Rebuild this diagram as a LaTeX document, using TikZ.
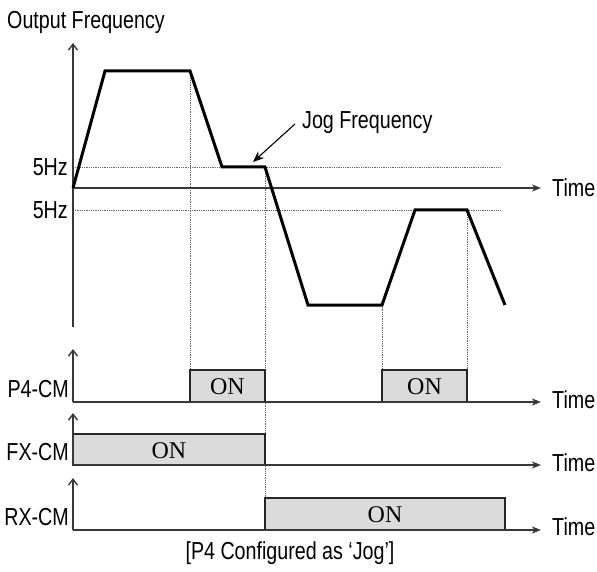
\documentclass[tikz,border=0pt]{standalone}
\usepackage{fontspec}
\setmainfont[FakeStretch=0.8]{Liberation Sans}
\newfontfamily\onfont{Liberation Serif}
\usetikzlibrary{arrows.meta}
\begin{document}
\begin{tikzpicture}[x=1pt,y=-1pt,
  lbl/.style={inner sep=0pt,font=\fontsize{24.6}{29}\selectfont},
  ontext/.style={inner sep=0pt,font=\onfont\fontsize{24}{28}\selectfont},
  axis/.style={draw=black!78,line width=1.4pt},
  timeaxis/.style={axis,-{Stealth[length=9pt,width=7pt,inset=2.5pt]}},
  yaxis/.style={axis,-{Straight Barb[length=6pt,width=9pt]}},
  guide/.style={draw=black!60,line width=0.8pt,densely dotted},
  onbox/.style={draw=black!85,fill=black!14,line width=1.3pt},
  freq/.style={draw=black,line width=3pt,line join=miter},
]
\useasboundingbox (0,0) rectangle (597,572);

% --- guides (dotted)
\draw[guide] (73,167) -- (500,167);
\draw[guide] (73,210) -- (500,210);
\draw[guide] (190,71) -- (190,370);
\draw[guide] (265,167) -- (265,498);
\draw[guide] (382,305) -- (382,370);
\draw[guide] (467,210) -- (467,370);

% --- top chart axes
\draw[yaxis] (73,327) -- (73,43);
\draw[timeaxis] (73,188) -- (541,188);

% --- frequency profile
\draw[freq] (73,188) -- (105,71) -- (190,71) -- (222,167) -- (265,167)
  -- (308,305) -- (382,305) -- (415,210) -- (467,210) -- (505,305);

% --- boxes
\draw[onbox] (190,402) rectangle (265,370);
\draw[onbox] (382,402) rectangle (467,370);
\draw[onbox] (73,465) rectangle (265,434);
\draw[onbox] (265,530) rectangle (505,498);

% --- lower axes
\draw[yaxis] (73,402) -- (73,349);
\draw[timeaxis] (73,402) -- (541,402);
\draw[yaxis] (73,465) -- (73,413);
\draw[timeaxis] (73,465) -- (541,465);
\draw[yaxis] (73,530) -- (73,478);
\draw[timeaxis] (73,530) -- (541,530);

% --- texts
\node[lbl,anchor=west] (of) at (7,22) {Output Frequency};
\node[lbl,anchor=east] (hz1) at (68,167) {5Hz};
\node[lbl,anchor=east] (hz2) at (68,210) {5Hz};
\node[lbl,anchor=west] (t0) at (552,188) {Time};
\node[lbl,anchor=west] (jog) at (302,123) {Jog Frequency};
\coordinate (jogstart) at (295,124);
\coordinate (jogtip) at (253,162);
\draw[black,line width=1.1pt,-{Stealth[length=11pt,width=9pt]}] (jogstart) -- (jogtip);

\node[lbl,anchor=east] (p4) at (69,389) {P4-CM};
\node[lbl,anchor=east] (fx) at (69,452) {FX-CM};
\node[lbl,anchor=east] (rx) at (69,517) {RX-CM};
\node[lbl,anchor=west] (t1) at (552,400) {Time};
\node[lbl,anchor=west] (t2) at (552,463) {Time};
\node[lbl,anchor=west] (t3) at (552,527) {Time};

\node[ontext] (on1) at (227.5,387) {ON};
\node[ontext] (on2) at (424.5,387) {ON};
\node[ontext] (on3) at (169,450.5) {ON};
\node[ontext] (on4) at (385,515) {ON};

\node[lbl] (cap) at (290,553) {[P4 Configured as ‘Jog’]};
\end{tikzpicture}
\end{document}
